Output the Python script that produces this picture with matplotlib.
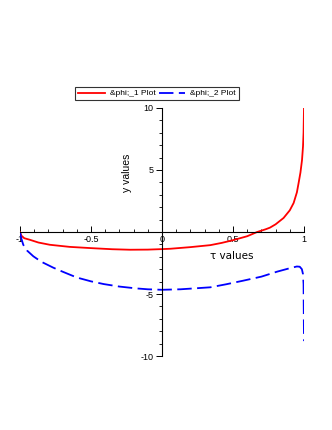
import matplotlib
matplotlib.use("Agg")
import matplotlib.pyplot as plt
from matplotlib.ticker import MultipleLocator

plt.rcParams["font.family"] = ["Liberation Sans", "DejaVu Sans"]

# ── Data ─────────────────────────────────────────────────────────────────────
tau_1 = [-1, -0.99, -0.97, -0.93, -0.87, -0.79, -0.65, -0.5, -0.35, -0.225,
         -0.1, 0, 0.06, 0.2, 0.34, 0.42, 0.5, 0.6, 0.67, 0.73, 0.76, 0.8,
         0.856, 0.9, 0.927, 0.95, 0.962, 0.975, 0.986, 0.993, 0.997, 1.0]
phi_1 = [0, -0.3, -0.5, -0.63, -0.85, -1.03, -1.2, -1.3, -1.39, -1.43,
         -1.42, -1.38, -1.35, -1.22, -1.06, -0.88, -0.66, -0.34, 0, 0.22,
         0.35, 0.62, 1.13, 1.75, 2.34, 3.2, 3.95, 4.8, 5.8, 6.9, 8.0, 10.0]

tau_2 = [-1, -0.99, -0.977, -0.95, -0.906, -0.85, -0.765, -0.7, -0.6, -0.5,
         -0.41, -0.3, -0.18, -0.1, 0, 0.13, 0.25, 0.34, 0.45, 0.57, 0.7, 0.81,
         0.9, 0.95, 0.97, 0.985, 0.993, 0.997, 1.0]
phi_2 = [0, -0.55, -1.03, -1.5, -1.96, -2.4, -2.88, -3.2, -3.67, -3.98,
         -4.2, -4.4, -4.55, -4.62, -4.66, -4.62, -4.53, -4.46, -4.22, -3.93,
         -3.6, -3.2, -2.92, -2.78, -2.8, -3.0, -3.4, -4.2, -8.8]

x_ticks = [-1, -0.5, 0, 0.5, 1]
x_tick_labels = ["-1", "-0.5", "0", "0.5", "1"]
y_ticks = [-10, -5, 5, 10]
y_tick_labels = ["-10", "-5", "5", "10"]

# ── Figure ───────────────────────────────────────────────────────────────────
fig = plt.figure(figsize=(3.32, 4.30), dpi=100)
ax = fig.add_axes([20 / 332, 74 / 430, 284 / 332, 248 / 430])

l1, = ax.plot(tau_1, phi_1, color="red", lw=1.3, label="&phi;_1 Plot")
l2, = ax.plot(tau_2, phi_2, color="blue", lw=1.3, dashes=(8, 3),
              label="&phi;_2 Plot")

ax.set_xlim(-1, 1)
ax.set_ylim(-10, 10)

# axes through the origin, Maple style
ax.spines["left"].set_position(("data", 0))
ax.spines["bottom"].set_position(("data", 0))
ax.spines["top"].set_visible(False)
ax.spines["right"].set_visible(False)
for s in ("left", "bottom"):
    ax.spines[s].set_linewidth(0.8)

ax.set_xticks(x_ticks)
ax.set_xticklabels(x_tick_labels)
ax.set_yticks(y_ticks)
ax.set_yticklabels(y_tick_labels)
ax.xaxis.set_minor_locator(MultipleLocator(0.1))
ax.yaxis.set_minor_locator(MultipleLocator(1))
ax.tick_params(axis="x", which="both", direction="in", labelsize=6.5, pad=2)
ax.tick_params(axis="y", which="both", direction="out", labelsize=6.5, pad=2)
ax.tick_params(which="major", length=4, width=0.7)
ax.tick_params(which="minor", length=2.5, width=0.6)

ax.text(-0.25, 4.75, "y values", rotation=90, ha="center", va="center",
        fontsize=7.5)
ax.text(0.49, -1.9, "\u03c4 values", ha="center", va="center", fontsize=7.5,
        family=["DejaVu Sans"])

leg = fig.legend(handles=[l1, l2], loc="center", ncol=2,
                 bbox_to_anchor=(157 / 332, 1 - 93.5 / 430), fontsize=6,
                 frameon=True, fancybox=False, edgecolor="black",
                 handlelength=3.2, handletextpad=0.6, columnspacing=0.4,
                 borderpad=0.3, borderaxespad=0)
leg.get_frame().set_linewidth(0.8)

fig.savefig("out.png", dpi=100)
